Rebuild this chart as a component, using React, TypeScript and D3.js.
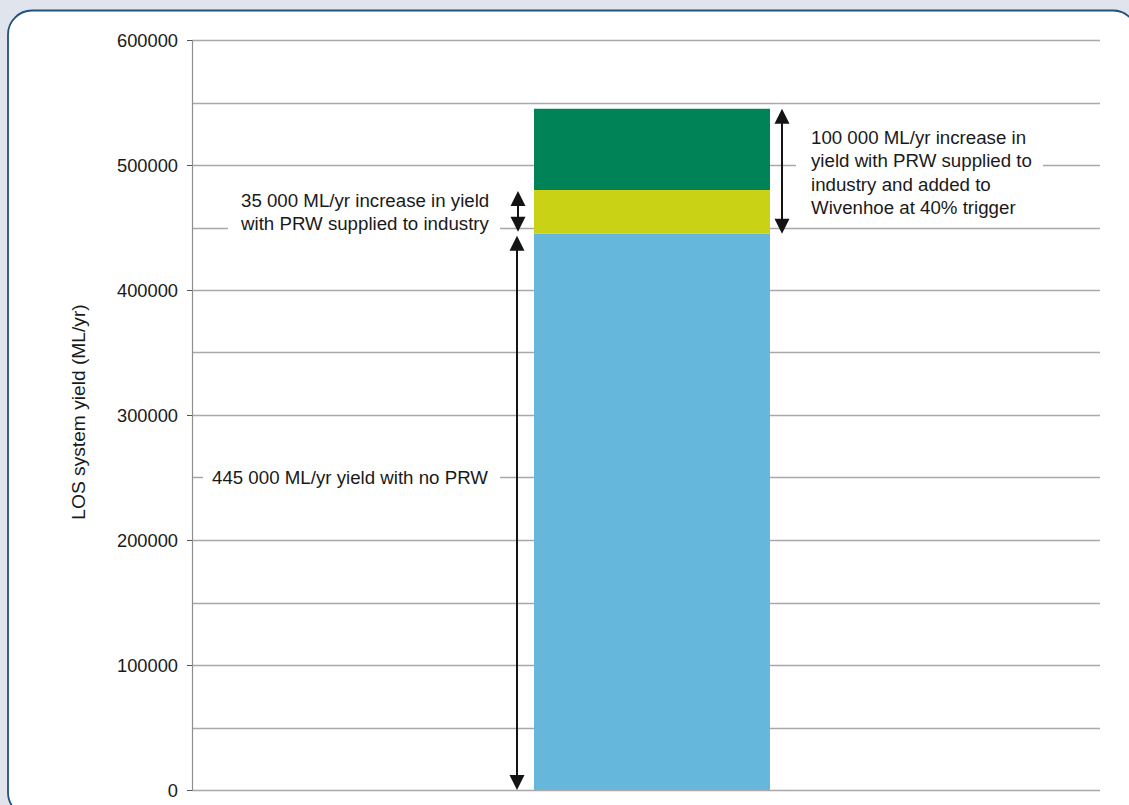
import React from "react";
import * as d3 from "d3";

const segmentNames = ["Yield with no PRW", "PRW supplied to industry", "PRW added to Wivenhoe at 40% trigger"];
const segmentValues = [445000, 35000, 65000];
const segmentColors = ["#66b7dc", "#c9d214", "#008356"];
const yTickValues = [0, 100000, 200000, 300000, 400000, 500000, 600000];
const yGridValues = [50000, 100000, 150000, 200000, 250000, 300000, 350000, 400000, 450000, 500000, 550000, 600000];
const yAxisTitle = "LOS system yield (ML/yr)";
const labelNoPRW = ["445 000 ML/yr yield with no PRW"];
const labelIndustry = ["35 000 ML/yr increase in yield", "with PRW supplied to industry"];
const labelWivenhoe = ["100 000 ML/yr increase in", "yield with PRW supplied to", "industry and added to", "Wivenhoe at 40% trigger"];

const W = 1129;
const H = 805;
const FONT = "'Liberation Sans', Arial, Helvetica, sans-serif";
const TEXT = "#1a1a1a";
const LABEL_FS = 18.7;

function Arrow({ x, y1, y2 }: { x: number; y1: number; y2: number }) {
  const hw = 7.5;
  const hh = 15;
  return (
    <g>
      <line x1={x} x2={x} y1={y1 + hh - 2} y2={y2 - hh + 2} stroke="#141414" strokeWidth={2} />
      <path d={`M${x},${y1} L${x - hw},${y1 + hh} L${x + hw},${y1 + hh} Z`} fill="#141414" />
      <path d={`M${x},${y2} L${x - hw},${y2 - hh} L${x + hw},${y2 - hh} Z`} fill="#141414" />
    </g>
  );
}

export default function App() {
  const plotLeft = 192;
  const plotRight = 1100;
  const y = d3.scaleLinear().domain([0, 600000]).range([790, 40]);
  const barX = 534;
  const barW = 236;

  const cum: number[] = [];
  let acc = 0;
  segmentValues.forEach((v) => {
    cum.push(acc);
    acc += v;
  });
  const total = acc;
  const base = segmentValues[0];
  const industryTop = segmentValues[0] + segmentValues[1];

  const lh = 23.5;

  return (
    <div style={{ position: "fixed", left: 0, top: 0, width: W, height: H }}>
      <svg width={W} height={H} style={{ display: "block", fontFamily: FONT }}>
        <rect x={0} y={0} width={W} height={H} fill="#dfe4ed" />
        <rect x={8} y={10.5} width={1129} height={806} rx={24} ry={24} fill="#ffffff" stroke="#21527f" strokeWidth={1.8} />

        {yGridValues.map((v) => (
          <line key={v} x1={plotLeft} x2={plotRight} y1={Math.round(y(v)) + 0.5} y2={Math.round(y(v)) + 0.5} stroke="#a8a8a8" strokeWidth={1.4} />
        ))}
        <line x1={plotLeft} x2={plotRight} y1={y(0) + 0.5} y2={y(0) + 0.5} stroke="#a8a8a8" strokeWidth={1.4} />
        <line x1={plotLeft + 0.5} x2={plotLeft + 0.5} y1={y(600000)} y2={y(0) + 1} stroke="#8f8f8f" strokeWidth={1.2} />
        {yTickValues.map((v) => (
          <g key={v}>
            <line x1={plotLeft - 5} x2={plotLeft} y1={Math.round(y(v)) + 0.5} y2={Math.round(y(v)) + 0.5} stroke="#555" strokeWidth={1} />
            <text x={178} y={y(v)} dy="0.36em" textAnchor="end" fontSize={18.3} fill={TEXT}>
              {String(v)}
            </text>
          </g>
        ))}
        <text transform={`translate(85,412) rotate(-90)`} textAnchor="middle" fontSize={19.2} fill={TEXT}>
          {yAxisTitle}
        </text>

        {segmentValues.map((v, i) => (
          <rect
            key={segmentNames[i]}
            x={barX}
            width={barW}
            y={y(cum[i] + v)}
            height={y(cum[i]) - y(cum[i] + v)}
            fill={segmentColors[i]}
          />
        ))}

        <rect x={203} y={462} width={297} height={30} fill="#fff" />
        <rect x={228} y={186} width={272} height={52} fill="#fff" />
        <rect x={796} y={122} width={247} height={98} fill="#fff" />

        <Arrow x={517} y1={y(base) + 2} y2={y(0)} />
        <Arrow x={518} y1={y(industryTop) + 1} y2={y(base) - 2} />
        <Arrow x={782} y1={y(total)} y2={y(base)} />

        {labelNoPRW.map((t, i) => (
          <text key={t} x={212} y={477 + i * lh} dy="0.36em" fontSize={LABEL_FS} fill={TEXT}>
            {t}
          </text>
        ))}
        {labelIndustry.map((t, i) => (
          <text key={t} x={241} y={200 + i * lh} dy="0.36em" fontSize={LABEL_FS} fill={TEXT}>
            {t}
          </text>
        ))}
        {labelWivenhoe.map((t, i) => (
          <text key={t} x={811} y={137 + i * lh} dy="0.36em" fontSize={LABEL_FS} fill={TEXT}>
            {t}
          </text>
        ))}
      </svg>
    </div>
  );
}
